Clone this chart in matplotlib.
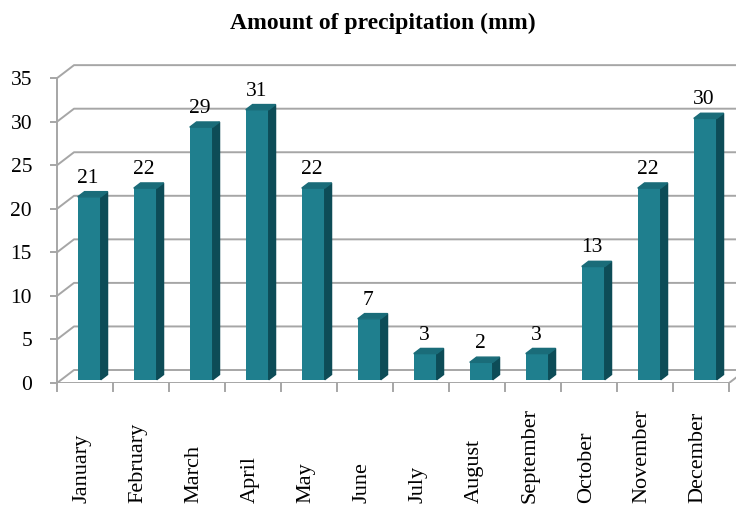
import numpy as np
import matplotlib
matplotlib.use("Agg")
import matplotlib.pyplot as plt
from matplotlib.patches import Polygon
from matplotlib.transforms import blended_transform_factory

months = ["January", "February", "March", "April", "May", "June", "July",
          "August", "September", "October", "November", "December"]
precip = [21, 22, 29, 31, 22, 7, 3, 2, 3, 13, 22, 30]
yticks = [0, 5, 10, 15, 20, 25, 30, 35]

plt.rcParams["font.family"] = ["Liberation Serif", "DejaVu Serif"]

W, H = 736, 505
fig = plt.figure(figsize=(W / 100, H / 100), dpi=100)

# plot area in pixels: front left edge x=57, floor y=383, top y=60
px_cat = 56.0      # pixels per category
px_val = 8.71      # pixels per mm
left, bottom_px, top_px = 57, 383, 60
ax = fig.add_axes([left / W, (H - bottom_px) / H, (W - left) / W, (bottom_px - top_px) / H])
xmax = -0.5 + (W - left) / px_cat
ax.set_xlim(-0.5, xmax)
ax.set_ylim(0, (bottom_px - top_px) / px_val)

# depth of the 3d box, in data units
dx = 17 / px_cat
dy = 13 / px_val
grid_c = "#a6a6a6"

# back wall grid lines + left wall diagonals
for v in yticks:
    ax.plot([-0.5, -0.5 + dx, xmax + 1], [v, v + dy, v + dy], color=grid_c, lw=1.4, zorder=1)
# floor
n = len(months)
ax.plot([-0.5, n - 0.5], [0, 0], color=grid_c, lw=1.4, zorder=1)
ax.plot([n - 0.5, n - 0.5 + dx], [0, dy], color=grid_c, lw=1.4, zorder=1)
# category ticks under floor
for k in range(n + 1):
    ax.plot([k - 0.5, k - 0.5], [0, -8 / px_val], color=grid_c, lw=1.4, clip_on=False)

# bars (front face, side, top)
f0, f1 = 0.25, 0.65
s = f1 - f0
w = 23 / px_cat
xs = np.arange(n) + f0 * dx
base = f0 * dy
front_c, side_c, top_c = "#1f7f8e", "#0d4c57", "#1a6c79"
ax.bar(xs, precip, width=w, bottom=base, color=front_c, zorder=3)
for x, v in zip(xs, precip):
    xl, xr = x - w / 2, x + w / 2
    top = base + v
    ax.add_patch(Polygon([(xr, base), (xr + s * dx, base + s * dy),
                          (xr + s * dx, top + s * dy), (xr, top)],
                         closed=True, color=side_c, zorder=3))
    ax.add_patch(Polygon([(xl, top), (xr, top), (xr + s * dx, top + s * dy),
                          (xl + s * dx, top + s * dy)],
                         closed=True, color=top_c, zorder=3))
    ax.text(x - 0.02, top + s * dy + 0.45, str(v), ha="center", va="bottom",
            fontsize=15.5, color="black", zorder=4)

# y axis
for sp in ["top", "right", "bottom"]:
    ax.spines[sp].set_visible(False)
ax.spines["left"].set_color(grid_c)
ax.spines["left"].set_linewidth(1.4)
ax.spines["left"].set_bounds(0, 35)
ax.set_yticks(yticks)
ax.set_yticklabels([str(v) for v in yticks], fontsize=15.5)
ax.tick_params(axis="y", color=grid_c, length=5, width=1.4, pad=13)
ax.set_xticks([])

# month labels, rotated, aligned at bottom of figure
trans = blended_transform_factory(ax.transData, fig.transFigure)
for i, m in enumerate(months):
    ax.text(i - 0.05, 0.004, m, rotation=90, ha="center", va="bottom",
            fontsize=16, transform=trans, clip_on=False)

fig.text(383 / W, 1 - 23 / H, "Amount of precipitation (mm)", ha="center", va="center",
         fontsize=17, fontweight="bold")

fig.savefig("out.png", dpi=100)
